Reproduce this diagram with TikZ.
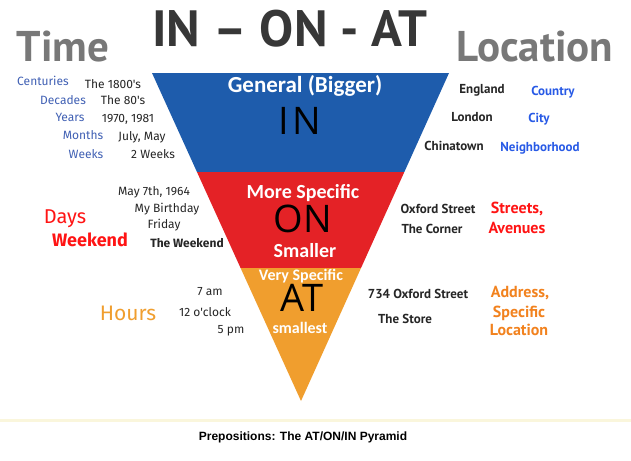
\documentclass[tikz,border=0pt]{standalone}
\usepackage{fontspec}
\setmainfont{PT Sans}
\newfontfamily\ptsans{PT Sans}
\newfontfamily\carl{Carlito}
\newfontfamily\opens{Open Sans}
\newfontfamily\fira{Fira Sans}
\newfontfamily\arial{Liberation Sans}
\definecolor{tblue}{RGB}{30,92,172}
\definecolor{tred}{RGB}{228,34,38}
\definecolor{torange}{RGB}{240,158,46}
\definecolor{slate}{RGB}{64,96,180}
\definecolor{locblue}{RGB}{40,90,230}
\definecolor{lbl}{RGB}{255,20,20}
\definecolor{lorange}{RGB}{242,130,30}
\definecolor{hdgray}{RGB}{120,120,120}
\definecolor{ttlgray}{RGB}{55,55,55}
\definecolor{beige}{RGB}{250,246,220}
\tikzset{
  hd/.style={anchor=base,inner sep=0pt,text=hdgray,font=\ptsans\bfseries\fontsize{43}{43}\selectfont},
  ttl/.style={anchor=base,inner sep=0pt,text=ttlgray,font=\ptsans\bfseries\fontsize{51}{51}\selectfont},
  tim/.style={anchor=base,inner sep=0pt,text=slate,font=\fira\fontsize{12}{12}\selectfont},
  tval/.style={anchor=base,inner sep=0pt,text=black!85,font=\fira\fontsize{12}{12}\selectfont},
  loc/.style={anchor=base,inner sep=0pt,text=black!85,font=\ptsans\bfseries\fontsize{13}{13}\selectfont},
  lcat/.style={anchor=base,inner sep=0pt,text=locblue,font=\ptsans\bfseries\fontsize{13}{13}\selectfont},
  band/.style={anchor=base,inner sep=0pt,text=white,font=\carl\bfseries\fontsize{20}{20}\selectfont},
  big/.style={anchor=base,inner sep=0pt,text=black,font=\opens\fontsize{38}{38}\selectfont},
  captext/.style={anchor=base,inner sep=0pt,text=black,font=\arial\bfseries\fontsize{12}{12}\selectfont}
}
\begin{document}
\begin{tikzpicture}[x=1pt,y=-1pt]
\useasboundingbox (0,0) rectangle (631,460);
\fill[white] (0,0) rectangle (631,460);
% pyramid
\coordinate (tl) at (152,73);
\coordinate (tr) at (449,73);
\coordinate (ap) at (301,401);
\begin{scope}
\clip (tl) -- (tr) -- (ap) -- cycle;
\fill[tblue] (100,60) rectangle (500,172);
\fill[tred] (100,172) rectangle (500,268);
\fill[torange] (100,268) rectangle (500,410);
\end{scope}
% headings
\node[hd] (time) at (63,61) {Time};
\node[ttl] (title) at (290,47) {IN – ON - AT};
\node[hd] (loc) at (535,61) {Location};
% time column
\node[tim] (c1) at (43,85) {Centuries};
\node[tval] (v1) at (113,88) {The 1800's};
\node[tim] (c2) at (63,104) {Decades};
\node[tval] (v2) at (123,104) {The 80's};
\node[tim] (c3) at (70,121) {Years};
\node[tval] (v3) at (128,122) {1970, 1981};
\node[tim] (c4) at (83,139) {Months};
\node[tval] (v4) at (142,140) {July, May};
\node[tim] (c5) at (86,158) {Weeks};
\node[tval] (v5) at (153,158) {2 Weeks};
% location column top
\node[loc] (l1) at (482,93) {England};
\node[lcat] (k1) at (553,95) {Country};
\node[loc] (l2) at (472,121) {London};
\node[lcat] (k2) at (539,122) {City};
\node[loc] (l3) at (454,150) {Chinatown};
\node[lcat] (k3) at (540,151) {Neighborhood};
% blue band
\node[band,font=\carl\bfseries\fontsize{23}{23}\selectfont] (gen) at (305,92) {General (Bigger)};
\node[big] (in) at (300,134) {I\kern4pt N};
% days
\node[tval] (d1) at (154,195) {May 7th, 1964};
\node[tval] (d2) at (167,212) {My Birthday};
\node[tval] (d3) at (164,228) {Friday};
\node[tval,font=\fira\bfseries\fontsize{12}{12}\selectfont] (d4) at (187,247) {The Weekend};
\node[anchor=base,inner sep=0pt,text=lbl,font=\fira\fontsize{20}{20}\selectfont] (days) at (65,223) {Days};
\node[anchor=base,inner sep=0pt,text=lbl,font=\fira\bfseries\fontsize{18}{18}\selectfont] (wkd) at (90,246) {Weekend};
% red band
\node[band] (ms) at (303,198) {More Specific};
\node[big] (on) at (303,232) {ON};
\node[band] (sm) at (305,257) {Smaller};
% streets
\node[loc] (s1) at (438,213) {Oxford Street};
\node[loc] (s2) at (432,233) {The Corner};
\node[lcat,text=lbl,font=\ptsans\bfseries\fontsize{16}{16}\selectfont] (s3) at (517,213) {Streets,};
\node[lcat,text=lbl,font=\ptsans\bfseries\fontsize{16}{16}\selectfont] (s4) at (517,233) {Avenues};
% orange band
\node[band,font=\carl\bfseries\fontsize{16}{16}\selectfont] (vs) at (301,280) {Very Specific};
\node[big] (at) at (302,311) {AT};
\node[band,font=\carl\bfseries\fontsize{16}{16}\selectfont] (sl) at (300,333) {smallest};
% hours
\node[tval] (h1) at (210,295) {7 am};
\node[tval] (h2) at (205,316) {12 o'clock};
\node[tval] (h3) at (231,333) {5 pm};
\node[anchor=base,inner sep=0pt,text=torange,font=\fira\fontsize{21}{21}\selectfont] (hrs) at (128,320) {Hours};
% address
\node[loc] (a1) at (418,298) {734 Oxford Street};
\node[loc] (a2) at (405,323) {The Store};
\node[lcat,text=lorange,font=\ptsans\bfseries\fontsize{16}{16}\selectfont] (a3) at (520,297) {Address,};
\node[lcat,text=lorange,font=\ptsans\bfseries\fontsize{16}{16}\selectfont] (a4) at (519,317) {Specific};
\node[lcat,text=lorange,font=\ptsans\bfseries\fontsize{16}{16}\selectfont] (a5) at (519,335) {Location};
% footer
\coordinate (fl) at (0,420);
\coordinate (fr) at (631,420);
\draw[beige,line width=3pt] (fl) -- (fr);
\node[captext] (capt) at (303,440) {Prepositions: The AT/ON/IN Pyramid};
\end{tikzpicture}
\end{document}
